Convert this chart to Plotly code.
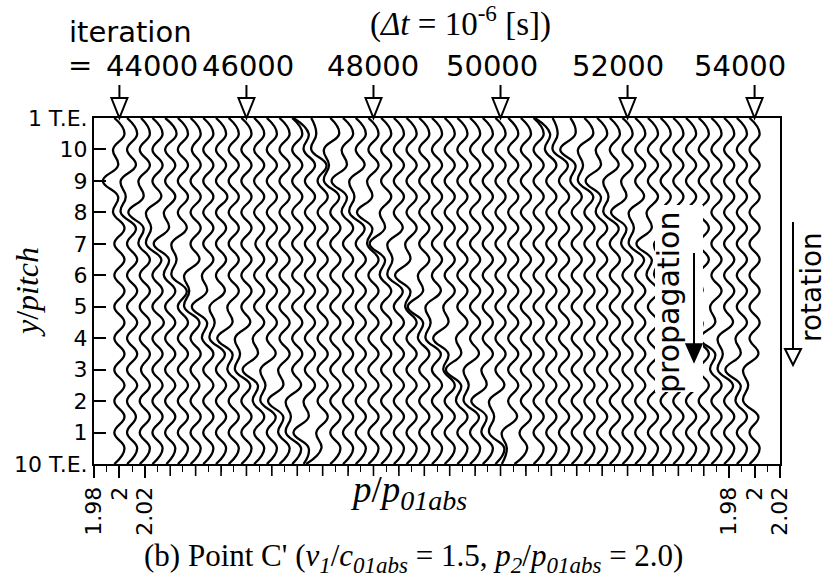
import plotly.graph_objects as go

# Sampled iterations (one pressure trace every 200 steps)
ITERATIONS = list(range(44000, 54001, 200))
MARKED_ITERATIONS = [44000, 46000, 48000, 50000, 52000, 54000]

# Stations along the cascade (y/pitch), from blade 10 T.E. (0) to blade 1 T.E. (11)
Y_PITCH = [0, 0.5, 1, 1.5, 2, 2.5, 3, 3.5, 4, 4.5, 5, 5.5, 6, 6.5, 7, 7.5,
           8, 8.5, 9, 9.5, 10, 10.5, 11]

P_MEAN = 2.0          # mean p/p01abs of every trace
DP_UNIT = 1e-3        # deviations below are stored in units of 1e-3 p/p01abs

# Pressure deviation of each trace at the stations above
DP = [
    [-4, 4, -4, 4, -4, 4, -4, 4, -4, 4, -4, 4, -4, 4, -4, 4, -5, -1, -13, -1, -5, 4, -4],   # 44000
    [-4, 4, -4, 3, -4, 4, -4, 4, -4, 4, -4, 4, -4, 4, -4, 3, -9, -5, -9, 3, -4, 4, -4],     # 44200
    [-4, 4, -4, 4, -4, 4, -3, 4, -4, 4, -4, 4, -4, 4, -5, -1, -13, -1, -5, 4, -4, 4, -3],   # 44400
    [-4, 4, -4, 4, -4, 4, -4, 4, -4, 5, -4, 4, -4, 3, -9, -5, -9, 3, -4, 4, -4, 4, -4],     # 44600
    [-3, 4, -4, 4, -4, 4, -4, 4, -4, 4, -4, 4, -5, -1, -13, -1, -5, 4, -4, 4, -4, 5, -4],   # 44800
    [-4, 4, -4, 4, -4, 4, -4, 4, -4, 4, -4, 3, -9, -5, -9, 3, -4, 4, -4, 4, -4, 4, -4],     # 45000
    [-4, 4, -4, 4, -4, 3, -4, 4, -4, 3, -9, -5, -9, 3, -4, 4, -4, 4, -4, 4, -3, 4, -4],     # 45200
    [-4, 4, -4, 4, -4, 4, -4, 4, -5, -1, -13, -1, -5, 4, -4, 4, -4, 4, -4, 4, -4, 4, -4],   # 45400
    [-4, 4, -4, 4, -4, 4, -4, 3, -9, -5, -9, 3, -4, 4, -4, 4, -4, 5, -4, 4, -4, 4, -4],     # 45600
    [-4, 4, -4, 4, -4, 4, -5, -1, -13, -1, -5, 4, -4, 4, -4, 4, -4, 4, -4, 4, -4, 4, -4],   # 45800
    [-4, 4, -4, 4, -4, 3, -9, -5, -9, 3, -4, 4, -4, 4, -4, 4, -4, 4, -4, 4, -4, 4, -4],     # 46000
    [-4, 4, -4, 4, -5, -1, -13, -1, -5, 4, -4, 4, -4, 4, -3, 4, -4, 4, -4, 4, -4, 4, -4],   # 46200
    [-4, 4, -4, 3, -9, -5, -9, 3, -4, 4, -4, 4, -4, 4, -4, 4, -4, 4, -4, 4, -4, 4, -4],     # 46400
    [-4, 4, -5, -1, -13, -1, -5, 4, -4, 4, -4, 4, -4, 4, -4, 4, -4, 4, -4, 4, -4, 4, -4],   # 46600
    [-4, 3, -9, -5, -9, 3, -4, 4, -4, 4, -4, 5, -4, 4, -4, 4, -4, 4, -4, 4, -4, 4, -4],     # 46800
    [-5, -1, -13, -1, -5, 4, -4, 4, -4, 4, -4, 4, -4, 4, -4, 4, -4, 4, -4, 4, -5, -1, -13], # 47000
    [-13, -1, -5, 4, -4, 4, -4, 4, -4, 4, -4, 4, -4, 4, -4, 4, -4, 4, -4, 3, -9, -5, -9],   # 47200
    [-4, 4, -4, 4, -4, 4, -4, 4, -4, 4, -4, 4, -4, 4, -4, 4, -4, 3, -9, -5, -9, 3, -4],     # 47400
    [-4, 4, -4, 4, -4, 4, -4, 4, -4, 4, -4, 4, -4, 4, -4, 4, -5, -1, -13, -1, -5, 4, -4],   # 47600
    [-4, 4, -4, 4, -4, 4, -4, 4, -4, 4, -4, 4, -4, 4, -4, 3, -9, -5, -9, 3, -4, 4, -4],     # 47800
    [-4, 4, -4, 4, -4, 4, -4, 4, -4, 4, -4, 4, -4, 4, -5, -1, -13, -1, -5, 4, -4, 4, -4],   # 48000
    [-4, 4, -4, 4, -4, 4, -4, 4, -4, 4, -4, 4, -5, -1, -13, -1, -5, 4, -4, 4, -4, 4, -4],   # 48200
    [-4, 4, -4, 4, -4, 4, -4, 4, -4, 4, -4, 3, -9, -5, -9, 3, -4, 4, -4, 4, -4, 4, -4],     # 48400
    [-4, 4, -4, 4, -4, 4, -4, 4, -4, 4, -5, -1, -13, -1, -5, 4, -4, 4, -4, 4, -4, 4, -4],   # 48600
    [-4, 4, -4, 4, -4, 4, -4, 4, -5, -1, -13, -1, -5, 4, -4, 4, -4, 4, -4, 4, -4, 4, -4],   # 48800
    [-4, 4, -4, 4, -4, 4, -4, 3, -9, -5, -9, 3, -4, 4, -4, 4, -4, 4, -4, 4, -4, 4, -4],     # 49000
    [-4, 4, -4, 4, -4, 4, -5, -1, -13, -1, -5, 4, -4, 4, -4, 4, -4, 4, -4, 4, -4, 4, -4],   # 49200
    [-4, 4, -4, 4, -5, -1, -13, -1, -5, 4, -4, 4, -4, 4, -4, 4, -4, 4, -4, 4, -4, 4, -4],   # 49400
    [-4, 4, -4, 3, -9, -5, -9, 3, -4, 4, -4, 4, -4, 4, -4, 4, -4, 4, -4, 4, -4, 4, -4],     # 49600
    [-4, 4, -5, -1, -13, -1, -5, 4, -4, 4, -4, 4, -4, 4, -4, 4, -4, 4, -4, 4, -4, 4, -4],   # 49800
    [-4, 3, -9, -5, -9, 3, -4, 4, -4, 4, -4, 4, -4, 4, -4, 4, -4, 4, -4, 4, -4, 4, -4],     # 50000
    [-9, -5, -9, 3, -4, 4, -4, 4, -4, 4, -4, 4, -4, 4, -4, 4, -4, 4, -4, 4, -4, 4, -4],     # 50200
    [-9, 1, -5, 4, -4, 4, -4, 4, -4, 4, -4, 4, -4, 4, -4, 4, -4, 4, -4, 4, -4, 4, -4],      # 50400
    [-4, 4, -4, 4, -4, 4, -4, 4, -4, 4, -4, 4, -4, 4, -4, 4, -4, 4, -4, 4, -4, 4, -4],      # 50600
    [-4, 4, -4, 4, -4, 4, -4, 4, -4, 4, -4, 4, -4, 4, -4, 4, -4, 4, -4, 4, -5, -1, -13],    # 50800
    [-4, 4, -4, 4, -4, 4, -4, 4, -4, 4, -4, 4, -4, 4, -4, 4, -4, 4, -4, 3, -9, -5, -9],     # 51000
    [-4, 4, -4, 4, -4, 4, -4, 4, -4, 4, -4, 4, -4, 4, -4, 4, -4, 4, -5, -1, -13, -1, -5],   # 51200
    [-4, 4, -4, 4, -4, 4, -4, 4, -4, 4, -4, 4, -4, 4, -4, 4, -4, 3, -9, -5, -9, 3, -4],     # 51400
    [-4, 4, -4, 4, -4, 4, -4, 4, -4, 4, -4, 4, -4, 4, -4, 4, -5, -1, -13, -1, -5, 4, -4],   # 51600
    [-4, 4, -4, 4, -4, 4, -4, 4, -4, 4, -4, 4, -4, 4, -4, 3, -9, -5, -9, 3, -4, 4, -4],     # 51800
    [-4, 4, -4, 4, -4, 4, -4, 4, -4, 4, -4, 4, -4, 4, -5, -1, -13, -1, -5, 4, -4, 4, -4],   # 52000
    [-4, 4, -4, 4, -4, 4, -4, 4, -4, 4, -4, 4, -4, 3, -9, -5, -9, 3, -4, 4, -4, 4, -4],     # 52200
    [-4, 4, -4, 4, -4, 4, -4, 4, -4, 4, -4, 4, -5, -1, -13, -1, -5, 4, -4, 4, -4, 4, -4],   # 52400
    [-4, 4, -4, 4, -4, 4, -4, 4, -4, 4, -4, 3, -9, -5, -9, 3, -4, 4, -4, 4, -4, 4, -4],     # 52600
    [-4, 4, -4, 4, -4, 4, -4, 4, -4, 4, -5, -1, -13, -1, -5, 4, -4, 4, -4, 4, -4, 4, -4],   # 52800
    [-4, 4, -4, 4, -4, 4, -4, 4, -4, 3, -9, -5, -9, 3, -4, 4, -4, 4, -4, 4, -4, 4, -4],     # 53000
    [-4, 4, -4, 4, -4, 4, -4, 4, -5, -1, -13, -1, -5, 4, -4, 4, -4, 4, -4, 4, -4, 4, -4],   # 53200
    [-4, 4, -4, 4, -4, 4, -5, -1, -13, -1, -5, 4, -4, 4, -4, 4, -4, 4, -4, 4, -4, 4, -4],   # 53400
    [-4, 4, -4, 4, -4, 3, -9, -5, -9, 3, -4, 4, -4, 4, -4, 4, -4, 4, -4, 4, -4, 4, -4],     # 53600
    [-4, 4, -4, 4, -5, -1, -13, -1, -5, 4, -4, 4, -4, 4, -4, 4, -4, 4, -4, 4, -4, 4, -4],   # 53800
    [-4, 4, -4, 3, -9, -5, -9, 3, -4, 4, -4, 4, -4, 4, -4, 4, -4, 4, -4, 4, -4, 4, -4],     # 54000
]

TRACE_SHIFT = 0.01    # horizontal offset between successive traces (p/p01abs)
X_RANGE = [1.98, 2.52]
Y_RANGE = [0, 11]

# p/p01abs scale is labelled only under the first and the last trace
X_LABEL_VALS = [1.98, 2.00, 2.02, 2.48, 2.50, 2.52]
X_LABEL_TEXT = ["1.98", "2", "2.02", "1.98", "2", "2.02"]
Y_LABEL_TEXT = ["10 T.E.", "1", "2", "3", "4", "5", "6", "7", "8", "9", "10", "1 T.E."]

# plot frame in pixels, used to place the decorations around it
W, H = 827, 585
L, R, T, B = 94, 780, 118, 464


def fx(px):
    return (px - L) / (R - L)


def fy(py):
    return (B - py) / (B - T)


PX_X = (X_RANGE[1] - X_RANGE[0]) / (R - L)   # p/p01abs per pixel

fig = go.Figure()

for k, (it, dev) in enumerate(zip(ITERATIONS, DP)):
    base = P_MEAN + k * TRACE_SHIFT
    fig.add_trace(go.Scatter(
        x=[base + d * DP_UNIT for d in dev],
        y=Y_PITCH,
        mode="lines",
        line=dict(color="black", width=2.3, shape="spline", smoothing=1.3),
        name=str(it),
        hoverinfo="skip",
        showlegend=False,
    ))

sans = "DejaVu Sans"
serif = "Liberation Serif"

fig.update_layout(
    width=W, height=H,
    margin=dict(l=L, r=W - R, t=T, b=H - B, pad=0),
    paper_bgcolor="white", plot_bgcolor="white",
    showlegend=False,
    xaxis=dict(
        range=X_RANGE, showgrid=False, zeroline=False,
        showline=True, linecolor="black", linewidth=2, mirror=True,
        ticks="outside", ticklen=12, tickwidth=1.6, tickcolor="black",
        tickmode="array", tickvals=X_LABEL_VALS, ticktext=X_LABEL_TEXT, tickangle=-90,
        tickfont=dict(family=sans, size=22, color="black"),
        minor=dict(ticks="outside", ticklen=6, tickwidth=1.2, tickcolor="black",
                   tick0=X_RANGE[0], dtick=0.01, showgrid=False),
    ),
    yaxis=dict(
        range=Y_RANGE, showgrid=False, zeroline=False,
        showline=True, linecolor="black", linewidth=2, mirror=True,
        ticks="inside", ticklen=12, tickwidth=1.6, tickcolor="black",
        tickmode="array", tickvals=list(range(12)), ticktext=Y_LABEL_TEXT,
        tickfont=dict(family=sans, size=22, color="black"),
    ),
)

ann = []
shapes = []

# long unlabelled ticks every 0.02 between the two labelled groups
for i in range(3, 25):
    xv = X_RANGE[0] + 0.02 * i
    shapes.append(dict(type="line", xref="x", yref="paper", x0=xv, x1=xv,
                       y0=0, y1=-12 / (B - T), line=dict(color="black", width=1.6)))

# iteration markers above the frame
ann.append(dict(text="iteration", x=fx(130), y=fy(32), xref="paper", yref="paper",
                showarrow=False, xanchor="center", yanchor="middle",
                font=dict(family=sans, size=29, color="black")))
ann.append(dict(text="=", x=fx(80), y=fy(65), xref="paper", yref="paper",
                showarrow=False, xanchor="center", yanchor="middle",
                font=dict(family=sans, size=29, color="black")))
label_px = [152, 248, 373, 492, 618, 740]
for it, lx in zip(MARKED_ITERATIONS, label_px):
    ann.append(dict(text=str(it), x=fx(lx), y=fy(66), xref="paper", yref="paper",
                    showarrow=False, xanchor="center", yanchor="middle",
                    font=dict(family=sans, size=29, color="black")))
    xc = P_MEAN + ITERATIONS.index(it) * TRACE_SHIFT
    hw = 8 * PX_X
    shapes.append(dict(type="line", xref="x", yref="paper", x0=xc, x1=xc,
                       y0=fy(85), y1=fy(98), line=dict(color="black", width=2)))
    shapes.append(dict(type="path", xref="x", yref="paper",
                       path=f"M {xc - hw},{fy(98)} L {xc + hw},{fy(98)} L {xc},{fy(118)} Z",
                       fillcolor="white", line=dict(color="black", width=2)))

ann.append(dict(text="(<i>Δt</i> = 10<sup>-6</sup> [s])", x=fx(460), y=fy(21),
                xref="paper", yref="paper", showarrow=False,
                xanchor="center", yanchor="middle",
                font=dict(family=serif, size=33, color="black")))

# propagation label and arrow inside the frame
shapes.append(dict(type="rect", xref="paper", yref="paper", layer="above",
                   x0=fx(655), x1=fx(703), y0=fy(392), y1=fy(205),
                   fillcolor="white", line=dict(width=0)))
ann.append(dict(text="propagation", x=fx(668), y=fy(303), xref="paper", yref="paper",
                showarrow=False, textangle=-90, xanchor="center", yanchor="middle",
                font=dict(family=sans, size=30, color="black")))
shapes.append(dict(type="line", xref="paper", yref="paper", x0=fx(694), x1=fx(694),
                   y0=fy(253), y1=fy(345), line=dict(color="black", width=2)))
shapes.append(dict(type="path", xref="paper", yref="paper",
                   path=f"M {fx(686)},{fy(344)} L {fx(702)},{fy(344)} L {fx(694)},{fy(362)} Z",
                   fillcolor="black", line=dict(color="black", width=1.5)))

# rotation label and arrow to the right of the frame
ann.append(dict(text="rotation", x=fx(811), y=fy(287), xref="paper", yref="paper",
                showarrow=False, textangle=-90, xanchor="center", yanchor="middle",
                font=dict(family=sans, size=28, color="black")))
shapes.append(dict(type="line", xref="paper", yref="paper", x0=fx(793), x1=fx(793),
                   y0=fy(222), y1=fy(349), line=dict(color="black", width=2)))
shapes.append(dict(type="path", xref="paper", yref="paper",
                   path=f"M {fx(785)},{fy(349)} L {fx(801)},{fy(349)} L {fx(793)},{fy(365)} Z",
                   fillcolor="white", line=dict(color="black", width=2)))

# axis titles and caption
ann.append(dict(text="<i>y</i>/<i>pitch</i>", x=fx(27), y=fy(292), xref="paper", yref="paper",
                showarrow=False, textangle=-90, xanchor="center", yanchor="middle",
                font=dict(family=serif, size=32, color="black")))
ann.append(dict(text="<i>p</i>/<i>p</i><sub><span style='font-size:28px'><i>01abs</i></span></sub>",
                x=fx(408), y=fy(492),
                xref="paper", yref="paper", showarrow=False,
                xanchor="center", yanchor="middle",
                font=dict(family=serif, size=37, color="black")))
sub = "<sub><span style='font-size:23px'><i>{}</i></span></sub>"
caption = ("(b) Point C' (<i>v</i>" + sub.format("1") + "/<i>c</i>" + sub.format("01abs")
           + " = 1.5, <i>p</i>" + sub.format("2") + "/<i>p</i>" + sub.format("01abs") + " = 2.0)")
ann.append(dict(text=caption,
                x=fx(413), y=fy(558), xref="paper", yref="paper", showarrow=False,
                xanchor="center", yanchor="middle",
                font=dict(family=serif, size=31, color="black")))

fig.update_layout(annotations=ann, shapes=shapes)
fig.write_html("out.html")
